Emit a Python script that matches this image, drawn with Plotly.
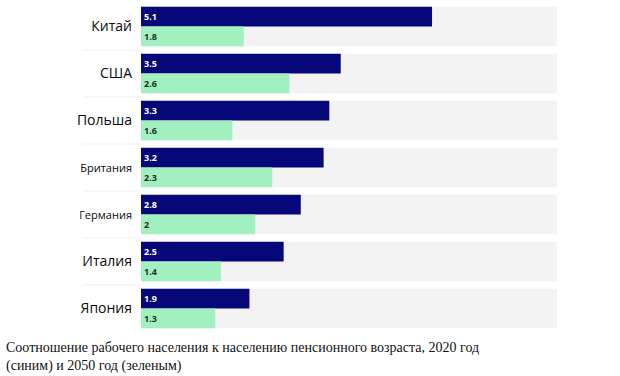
import plotly.graph_objects as go

countries = ["Китай", "США", "Польша", "Британия", "Германия", "Италия", "Япония"]
label_sizes = [14, 14, 14, 11, 11, 14, 14]
ratio_2020 = [5.1, 3.5, 3.3, 3.2, 2.8, 2.5, 1.9]
ratio_2050 = [1.8, 2.6, 1.6, 2.3, 2.0, 1.4, 1.3]
text_2020 = ["5.1", "3.5", "3.3", "3.2", "2.8", "2.5", "1.9"]
text_2050 = ["1.8", "2.6", "1.6", "2.3", "2", "1.4", "1.3"]
caption = ("Соотношение рабочего населения к населению пенсионного возраста, 2020 год<br>"
           "(синим) и 2050 год (зеленым)")

BLUE = "#06087a"
GREEN = "#a2efbf"
BG = "#f3f3f3"
XMAX = 7.29
half = 0.42
n = len(countries)

fig = go.Figure()
fig.add_trace(go.Bar(
    y=countries, x=ratio_2020, orientation="h", marker=dict(color=BLUE, line=dict(width=0)),
    text=text_2020, textposition="inside", insidetextanchor="start",
    textfont=dict(color="white", size=9, family="Open Sans", weight="bold"),
    hoverinfo="skip"))
fig.add_trace(go.Bar(
    y=countries, x=ratio_2050, orientation="h", marker=dict(color=GREEN, line=dict(width=0)),
    text=text_2050, textposition="inside", insidetextanchor="start",
    textfont=dict(color="#1d3326", size=9, family="Open Sans", weight="bold"),
    hoverinfo="skip"))

shapes = []
for i in range(n):
    shapes.append(dict(type="rect", xref="x", yref="y", x0=0, x1=XMAX,
                       y0=i - half, y1=i + half, fillcolor=BG, line=dict(width=0),
                       layer="below"))
for i in range(n - 1):
    shapes.append(dict(type="line", xref="paper", yref="y", x0=-0.14, x1=-0.003,
                       y0=i + 0.5, y1=i + 0.5, line=dict(color="#f0f0f0", width=1)))

ticktext = [f'<span style="font-size:{s}px">{c}</span>' for c, s in zip(countries, label_sizes)]

fig.update_layout(
    width=620, height=376,
    margin=dict(l=141, r=63, t=3, b=44, autoexpand=False),
    paper_bgcolor="white", plot_bgcolor="white",
    barmode="group", bargap=2 * (0.5 - half), bargroupgap=0.0,
    showlegend=False,
    shapes=shapes,
    xaxis=dict(range=[0, XMAX], visible=False, fixedrange=True, automargin=False),
    yaxis=dict(range=[n - 0.5, -0.5], autorange=False, tickmode="array",
               tickvals=countries, ticktext=ticktext, automargin=False,
               showgrid=False, zeroline=False, showline=False, ticks="",
               ticklabelstandoff=8, fixedrange=True,
               tickfont=dict(family="Open Sans", size=14, color="#0a0a0a")),
    annotations=[dict(text=caption, xref="paper", yref="paper", x=-137 / 416, y=0,
                      xanchor="left", yanchor="top", yshift=-6, showarrow=False, align="left",
                      font=dict(family="Liberation Serif", size=14, color="#111111"))],
)

fig.write_html("out.html", config={"displayModeBar": False, "staticPlot": True},
               post_script="document.body.style.margin='0';document.body.style.padding='0';document.body.style.overflow='hidden';")
